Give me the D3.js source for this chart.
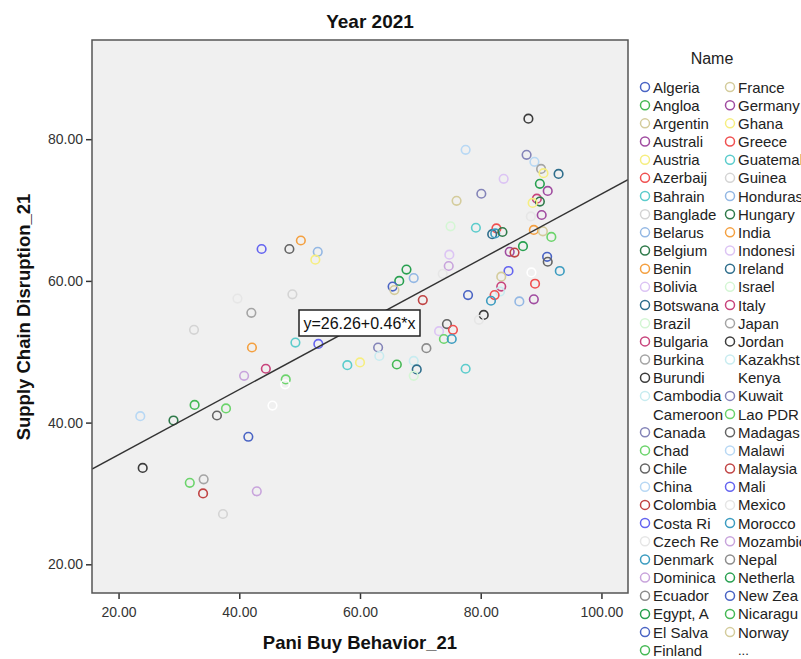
<!DOCTYPE html>
<html>
<head>
<meta charset="utf-8">
<script src="https://cdn.jsdelivr.net/npm/d3@7"></script>
<style>
  body { margin: 0; background: #fff; }
  text { font-family: "Liberation Sans", Arial, sans-serif; }
</style>
</head>
<body>
<div id="chart"></div>
<script>
// legend entries (first 62 of the Name variable, then "...")
const countryNames = [
  "Algeria", "Angloa", "Argentin", "Australi", "Austria", "Azerbaij", "Bahrain", "Banglade",
  "Belarus", "Belgium", "Benin", "Bolivia", "Botswana", "Brazil", "Bulgaria", "Burkina",
  "Burundi", "Cambodia", "Cameroon", "Canada", "Chad", "Chile", "China", "Colombia",
  "Costa Ri", "Czech Re", "Denmark", "Dominica", "Ecuador", "Egypt, A", "El Salva", "Finland",
  "France", "Germany", "Ghana", "Greece", "Guatemal", "Guinea", "Honduras", "Hungary",
  "India", "Indonesi", "Ireland", "Israel", "Italy", "Japan", "Jordan", "Kazakhst",
  "Kenya", "Kuwait", "Lao PDR", "Madagas", "Malawi", "Malaysia", "Mali", "Mexico",
  "Morocco", "Mozambic", "Nepal", "Netherla", "New Zea", "Nicaragu", "Norway"
];

// SPSS marker colours, cycling every 30 categories
const palette = [
  "#4a64c4", "#46b955", "#d4cc9c", "#a04ca0", "#f6ee80", "#f05050", "#5ccccc", "#d4d4d4",
  "#94b8e4", "#2f7a4a", "#f4a040", "#dcc4f4", "#2f6e8c", "#d4f6d4", "#c8447c", "#a4a4a4",
  "#3c3c3c", "#c8ecf0", "#ffffff", "#8484b8", "#6cd46c", "#646464", "#b8d8f4", "#c04444",
  "#6464f0", "#e6e6e6", "#3c9cc0", "#c8a4dc", "#8c8c8c", "#28a050"
];

// Pani Buy Behavior_21
const panicBuy = [
  43.7, 48.3, 50.2, 53.0, 52.6, 48.8, 39.7, 42.0, 32.5, 42.1,
  49.3, 53.1, 57.9, 60.0, 44.4, 40.8, 47.7, 47.6, 45.5, 23.6,
  29.1, 32.6, 36.3, 37.8, 41.5, 24.0, 31.8, 34.1, 34.0, 42.9,
  37.3, 63.0, 63.2, 66.1, 68.9, 69.4, 68.9, 67.7, 66.5, 65.4,
  65.7, 68.9, 70.4, 77.5, 87.6, 88.9, 90.0, 90.4, 92.9, 83.8,
  80.1, 76.0, 89.8, 91.1, 89.3, 89.8, 88.6, 90.1, 88.3, 75.0,
  79.2, 82.6, 81.9, 82.4, 83.6, 88.8, 90.3, 91.7, 87.0, 84.8,
  85.6, 91.0, 91.1, 74.8, 74.7, 93.1, 88.4, 84.6, 89.0, 88.8,
  86.4, 73.7, 83.4, 83.4, 83.2, 82.3, 81.7, 77.9, 80.5, 79.7,
  74.4, 73.1, 75.4, 73.9, 75.2, 71.0, 77.5, 87.9
];

// Supply Chain Disruption_21
const supplyDisruption = [
  64.5, 64.5, 65.7, 64.1, 63.0, 58.1, 57.5, 55.5, 53.1, 50.6,
  51.3, 51.1, 48.1, 48.5, 47.6, 46.6, 46.1, 45.4, 42.4, 40.9,
  40.3, 42.5, 41.0, 42.0, 38.0, 33.6, 31.5, 32.0, 30.0, 30.3,
  27.1, 50.6, 49.4, 48.2, 48.7, 47.5, 46.6, 61.6, 60.0, 59.2,
  58.7, 60.4, 57.3, 78.5, 77.8, 76.8, 75.8, 75.2, 75.1, 74.4,
  72.3, 71.3, 73.7, 72.7, 71.6, 71.2, 71.0, 69.3, 69.1, 67.7,
  67.5, 67.4, 66.6, 66.7, 66.9, 67.2, 67.0, 66.2, 64.9, 64.1,
  64.0, 63.4, 62.7, 63.7, 62.1, 61.4, 61.2, 61.4, 59.6, 57.4,
  57.1, 61.0, 60.6, 59.2, 58.5, 58.0, 57.2, 58.0, 55.2, 54.5,
  53.9, 52.9, 53.1, 51.8, 51.8, 50.5, 47.6, 82.9
];

// palette index of each point's marker
const pointGroup = [
  24, 21, 10, 8, 4, 7, 25, 15, 7, 10,
  6, 24, 6, 4, 14, 27, 20, 18, 18, 22,
  9, 1, 21, 20, 0, 16, 20, 15, 23, 27,
  7, 19, 17, 1, 17, 12, 13, 29, 29, 0,
  2, 8, 23, 22, 19, 22, 15, 4, 12, 11,
  19, 2, 29, 3, 14, 9, 4, 3, 25, 13,
  6, 5, 12, 26, 9, 10, 2, 20, 29, 3,
  23, 0, 21, 11, 27, 26, 18, 24, 5, 3,
  8, 25, 2, 14, 17, 5, 26, 0, 16, 25,
  21, 11, 5, 20, 26, 28, 6, 16
];

const xTicks = [20, 40, 60, 80, 100];
const yTicks = [20, 40, 60, 80];
const fitIntercept = 26.26, fitSlope = 0.46;

const width = 801, height = 659;
const plot = { left: 92, right: 628, top: 40, bottom: 593 };

const svg = d3.select("#chart").append("svg")
    .attr("width", width)
    .attr("height", height);

const x = d3.scaleLinear().domain([15.6, 104.4]).range([plot.left, plot.right]);
const y = d3.scaleLinear().domain([15.95, 94]).range([plot.bottom, plot.top]);

// plot background
svg.append("rect")
    .attr("x", plot.left).attr("y", plot.top)
    .attr("width", plot.right - plot.left)
    .attr("height", plot.bottom - plot.top)
    .attr("fill", "#f0f0f0");

svg.append("defs").append("clipPath").attr("id", "clip")
  .append("rect")
    .attr("x", plot.left).attr("y", plot.top)
    .attr("width", plot.right - plot.left)
    .attr("height", plot.bottom - plot.top);

// axes
const xAxis = svg.append("g")
    .attr("transform", `translate(0,${plot.bottom})`)
    .call(d3.axisBottom(x).tickValues(xTicks).tickFormat(d3.format(".2f")).tickSize(6).tickSizeOuter(0));
const yAxis = svg.append("g")
    .attr("transform", `translate(${plot.left},0)`)
    .call(d3.axisLeft(y).tickValues(yTicks).tickFormat(d3.format(".2f")).tickSize(6).tickSizeOuter(0));

[xAxis, yAxis].forEach(g => {
  g.select(".domain").remove();
  g.selectAll(".tick line").attr("stroke", "#333").attr("stroke-width", 1.5);
  g.selectAll(".tick text").attr("fill", "#333").attr("font-size", 14);
});
xAxis.selectAll(".tick text").attr("dy", "1.05em");

// points
svg.append("g")
    .attr("clip-path", "url(#clip)")
  .selectAll("circle")
  .data(panicBuy.map((v, i) => ({ x: v, y: supplyDisruption[i], g: pointGroup[i] })))
  .join("circle")
    .attr("cx", d => x(d.x))
    .attr("cy", d => y(d.y))
    .attr("r", 4.3)
    .attr("fill", "none")
    .attr("stroke", d => palette[d.g])
    .attr("stroke-width", 1.6);

// fit line
const [x0, x1] = x.domain();
svg.append("line")
    .attr("clip-path", "url(#clip)")
    .attr("x1", x(x0)).attr("y1", y(fitIntercept + fitSlope * x0))
    .attr("x2", x(x1)).attr("y2", y(fitIntercept + fitSlope * x1))
    .attr("stroke", "#333")
    .attr("stroke-width", 1.4);

// equation label
const eq = svg.append("g").attr("transform", "translate(299,310)");
eq.append("rect")
    .attr("width", 121).attr("height", 26)
    .attr("fill", "#fff")
    .attr("stroke", "#222")
    .attr("stroke-width", 1.5);
eq.append("text")
    .attr("x", 60.5).attr("y", 19)
    .attr("text-anchor", "middle")
    .attr("font-size", 16)
    .attr("fill", "#111")
    .text(`y=${fitIntercept}+${fitSlope}*x`);

// frame
svg.append("rect")
    .attr("x", plot.left).attr("y", plot.top)
    .attr("width", plot.right - plot.left)
    .attr("height", plot.bottom - plot.top)
    .attr("fill", "none")
    .attr("stroke", "#555")
    .attr("stroke-width", 1.5);

// titles
svg.append("text")
    .attr("x", 370).attr("y", 28)
    .attr("text-anchor", "middle")
    .attr("font-size", 19).attr("font-weight", "bold")
    .attr("fill", "#111")
    .text("Year 2021");

svg.append("text")
    .attr("x", 360).attr("y", 649)
    .attr("text-anchor", "middle")
    .attr("font-size", 18.5).attr("font-weight", "bold")
    .attr("fill", "#111")
    .text("Pani Buy Behavior_21");

svg.append("text")
    .attr("transform", "translate(30,317) rotate(-90)")
    .attr("text-anchor", "middle")
    .attr("font-size", 18.5).attr("font-weight", "bold")
    .attr("fill", "#111")
    .text("Supply Chain Disruption_21");

// legend
const legend = svg.append("g");
legend.append("text")
    .attr("x", 712).attr("y", 64)
    .attr("text-anchor", "middle")
    .attr("font-size", 16)
    .attr("fill", "#222")
    .text("Name");

const rowsPerCol = 32, rowStep = 18.17;
const items = legend.selectAll("g.item")
  .data(countryNames)
  .join("g")
    .attr("class", "item")
    .attr("transform", (d, i) => {
      const col = Math.floor(i / rowsPerCol), row = i % rowsPerCol;
      return `translate(${645 + col * 85},${87 + row * rowStep})`;
    });
items.append("circle")
    .attr("r", 4.5)
    .attr("fill", "none")
    .attr("stroke", (d, i) => palette[i % palette.length])
    .attr("stroke-width", 1.5);
items.append("text")
    .attr("x", 8).attr("y", 5.5)
    .attr("font-size", 15)
    .attr("fill", "#222")
    .text(d => d);

legend.append("text")
    .attr("x", 738).attr("y", 655)
    .attr("font-size", 13)
    .attr("fill", "#222")
    .text("...");
</script>
</body>
</html>
